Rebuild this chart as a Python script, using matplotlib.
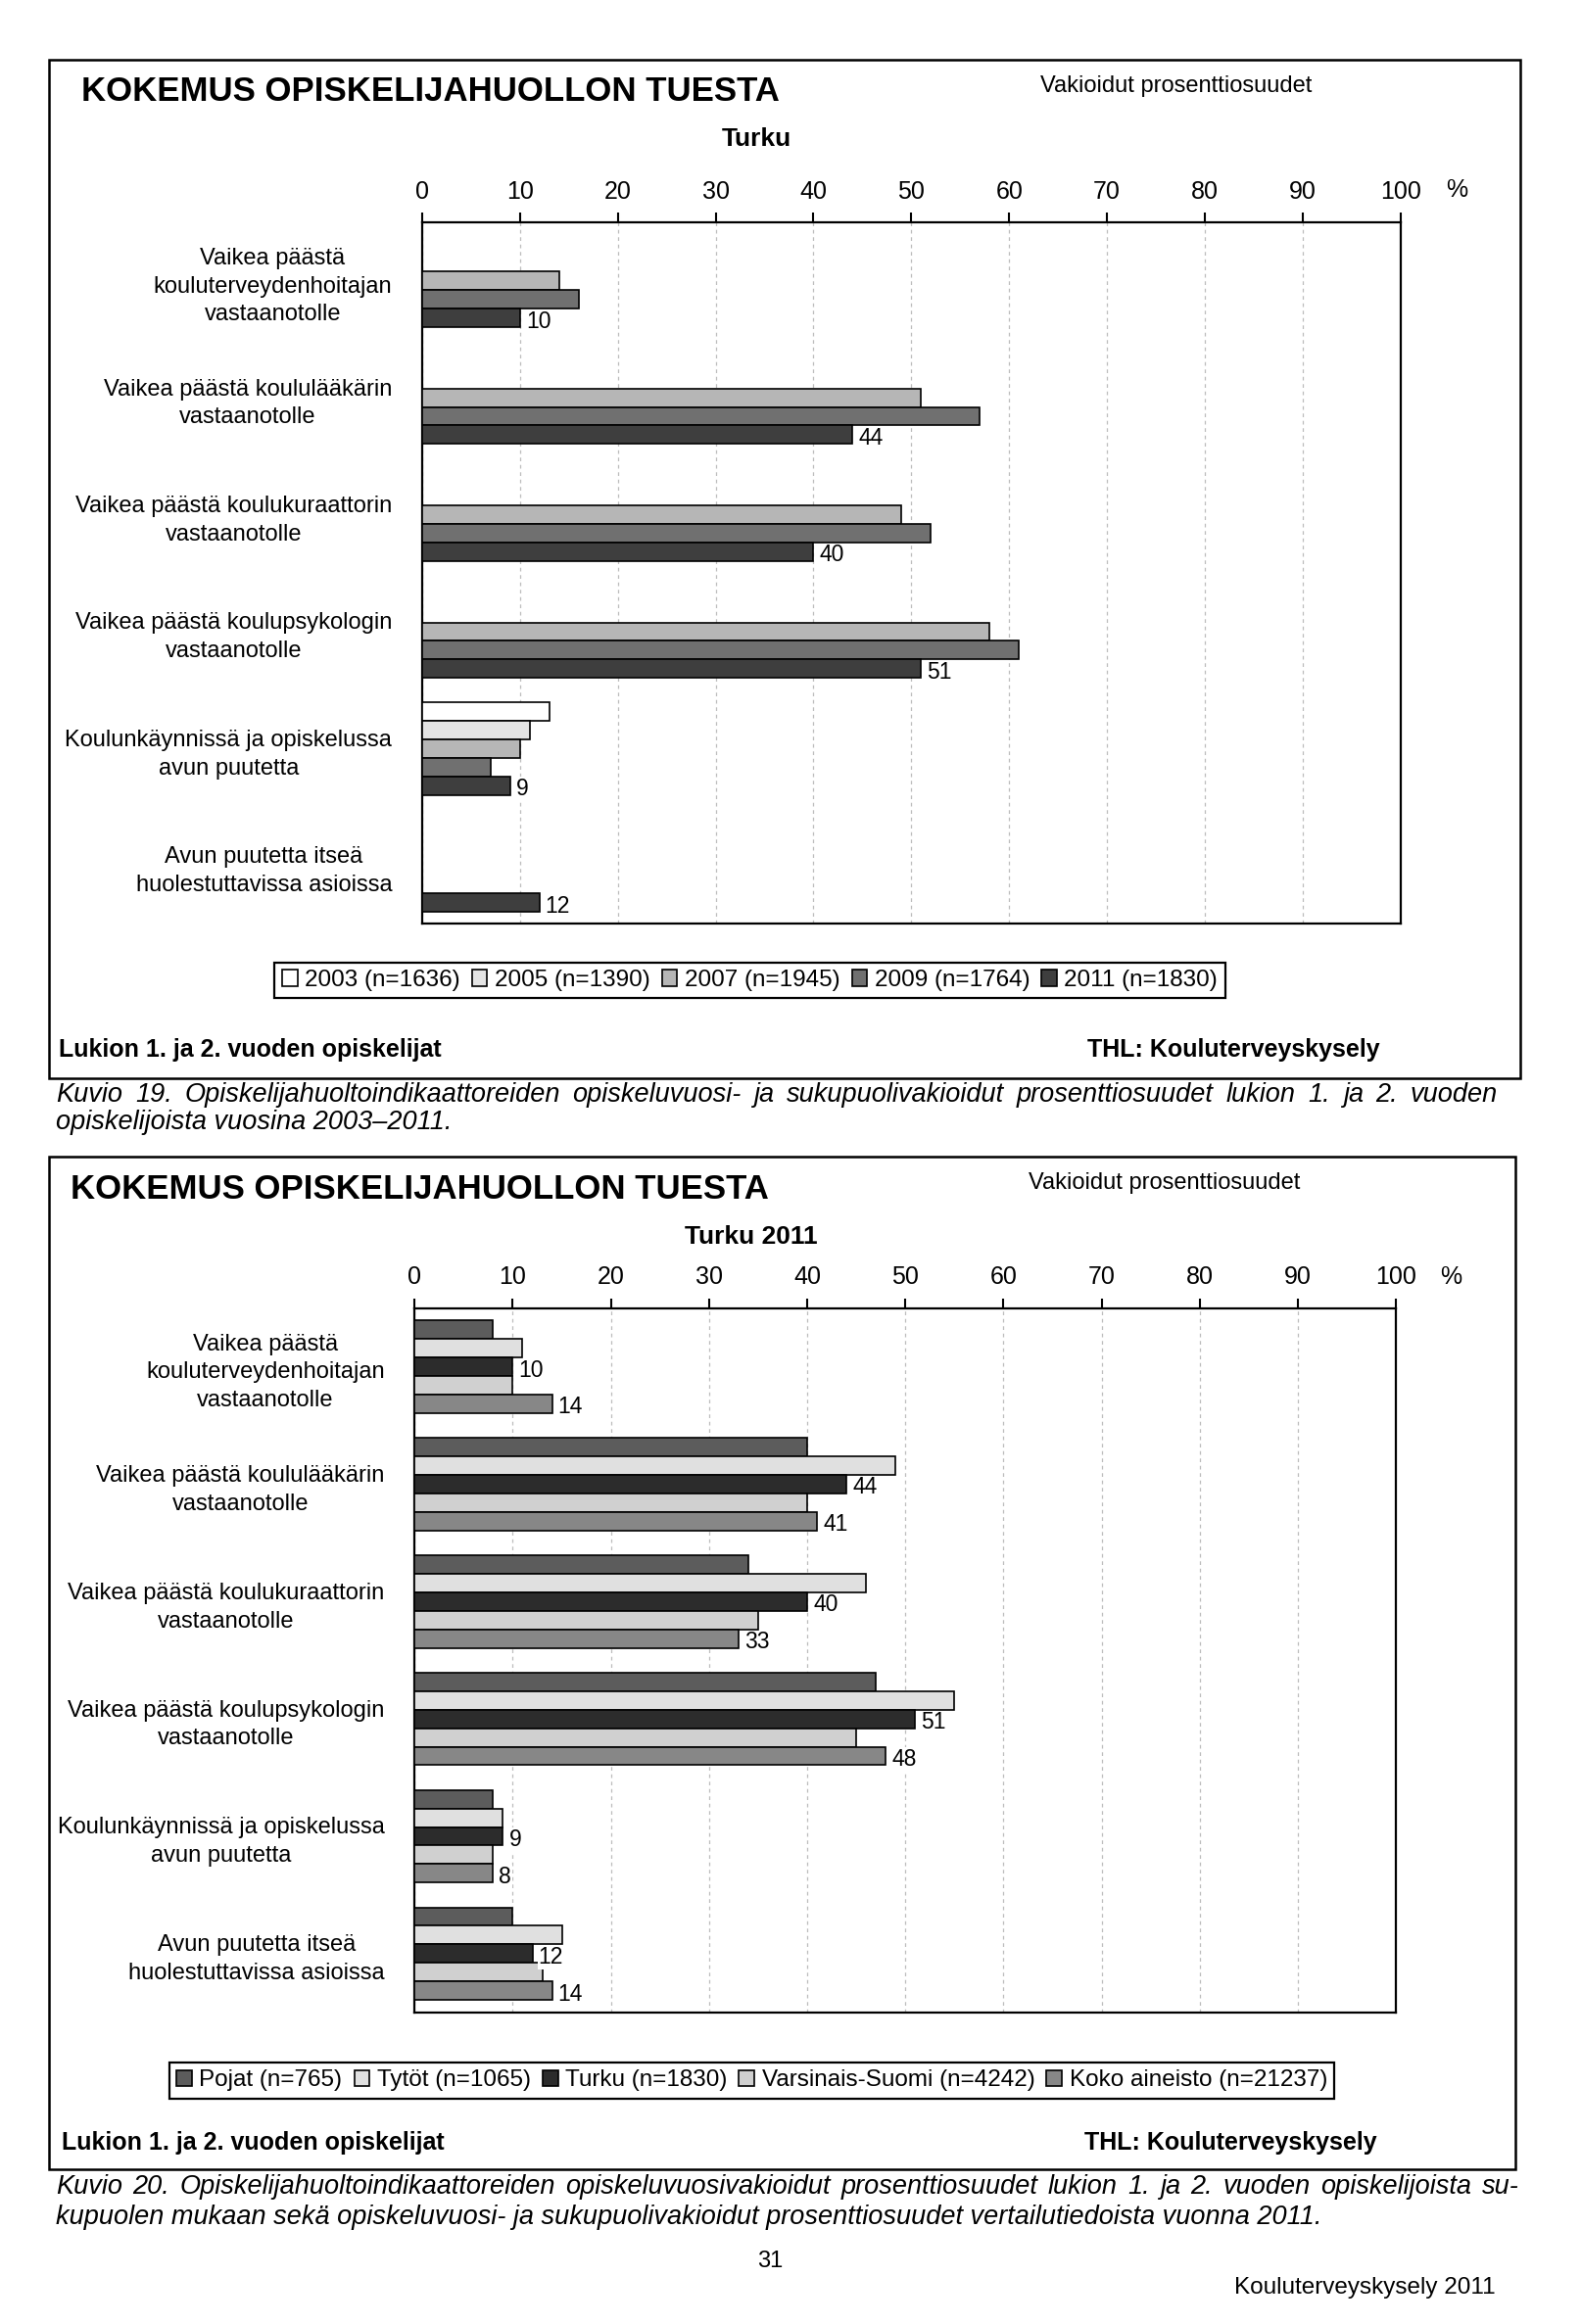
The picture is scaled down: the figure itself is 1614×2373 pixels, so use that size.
import numpy as np
import matplotlib
matplotlib.use('Agg')
import matplotlib.pyplot as plt
from matplotlib.patches import Rectangle

plt.rcParams['font.family'] = ['Liberation Sans', 'DejaVu Sans']

### data
categories = [
    'Vaikea päästä\nkouluterveydenhoitajan\nvastaanotolle',
    'Vaikea päästä koululääkärin\nvastaanotolle',
    'Vaikea päästä koulukuraattorin\nvastaanotolle',
    'Vaikea päästä koulupsykologin\nvastaanotolle',
    'Koulunkäynnissä ja opiskelussa\navun puutetta',
    'Avun puutetta itseä\nhuolestuttavissa asioissa',
]
ticks = list(range(0, 101, 10))

# top chart: Turku by survey year (None = no bar)
year_names = ['2003 (n=1636)', '2005 (n=1390)', '2007 (n=1945)', '2009 (n=1764)', '2011 (n=1830)']
v2003 = [None, None, None, None, 13, None]
v2005 = [None, None, None, None, 11, None]
v2007 = [14, 51, 49, 58, 10, None]
v2009 = [16, 57, 52, 61, 7, None]
v2011 = [10, 44, 40, 51, 9, 12]

# bottom chart: Turku 2011 comparisons
group_names = ['Pojat (n=765)', 'Tytöt (n=1065)', 'Turku (n=1830)',
               'Varsinais-Suomi (n=4242)', 'Koko aineisto (n=21237)']
pojat = [8, 40, 34, 47, 8, 10]
tytot = [11, 49, 46, 55, 9, 15]
turku = [10, 44, 40, 51, 9, 12]
varsinais = [10, 40, 35, 45, 8, 13]
koko = [14, 41, 33, 48, 8, 14]

year_colors = ['#ffffff', '#e4e4e4', '#b6b6b6', '#707070', '#3e3e3e']
group_colors = ['#5c5c5c', '#e0e0e0', '#2c2c2c', '#d0d0d0', '#878787']


def fy(y):
    # small vertical correction, grows toward the bottom of the page
    return y - 0.005 * (1 - y)


def draw_panel(ax, series, names, colors, labelled):
    n = len(series)
    h = 0.158
    ypos = np.arange(len(categories))
    handles = []
    for j, (vals, name, col) in enumerate(zip(series, names, colors)):
        vals = np.array([np.nan if v is None else v for v in vals], dtype=float)
        y = ypos + (j - (n - 1) / 2) * h
        ok = ~np.isnan(vals)
        b = ax.barh(y[ok], vals[ok], height=h, color=col, edgecolor='black',
                    linewidth=1.2, label=name, zorder=3)
        handles.append(b)
        if j in labelled:
            for yy, v in zip(y[ok], vals[ok]):
                ax.text(v + 0.6, yy + 0.03, '%d' % v, va='center', ha='left',
                        fontsize=16.5, zorder=4,
                        bbox=dict(facecolor='white', edgecolor='none', pad=0.5))
    ax.set_xlim(0, 100)
    ax.set_ylim(len(categories) - 0.5, -0.5)
    ax.xaxis.tick_top()
    ax.set_xticks(ticks)
    ax.tick_params(axis='x', direction='out', length=7, width=1.5,
                   labelsize=18, pad=7)
    ax.set_yticks(ypos)
    ax.set_yticklabels(categories)
    ax.tick_params(axis='y', length=0, pad=22, labelsize=17)
    for lbl in ax.get_yticklabels():
        lbl.set_multialignment('center')
        lbl.set_linespacing(1.4)
    ax.grid(axis='x', linestyle=(0, (3, 3)), color='#bdbdbd', linewidth=0.9, zorder=0)
    ax.grid(axis='y', visible=False)
    for s in ax.spines.values():
        s.set_linewidth(1.6)
        s.set_color('black')
    return handles


def justified(fig, line, x0, x1, y, **kw):
    words = line.split()
    r = fig.canvas.get_renderer()
    texts = [fig.text(0, y, w, va='center', ha='left', **kw) for w in words]
    widths = [t.get_window_extent(r).width / fig.bbox.width for t in texts]
    gap = (x1 - x0 - sum(widths)) / (len(words) - 1)
    x = x0
    for t, w in zip(texts, widths):
        t.set_x(x)
        x += w + gap


def panel_texts(fig, title_xy, vak_xy, sub, sub_xy, pct_xy, foot_y, foot_x0, thl_x1):
    fig.text(title_xy[0], fy(title_xy[1]), 'KOKEMUS OPISKELIJAHUOLLON TUESTA',
             fontsize=25, fontweight='bold', va='center', ha='left')
    fig.text(vak_xy[0], fy(vak_xy[1]), 'Vakioidut prosenttiosuudet',
             fontsize=17, va='center', ha='left')
    fig.text(sub_xy[0], fy(sub_xy[1]), sub, fontsize=19, fontweight='bold',
             va='center', ha='center')
    fig.text(pct_xy[0], fy(pct_xy[1]), '%', fontsize=18, va='center', ha='left')
    fig.text(foot_x0, fy(foot_y), 'Lukion 1. ja 2. vuoden opiskelijat',
             fontsize=18, fontweight='bold', va='center', ha='left')
    fig.text(thl_x1, fy(foot_y), 'THL: Kouluterveyskysely',
             fontsize=18, fontweight='bold', va='center', ha='right')


def main():
    fig = plt.figure(figsize=(16.15, 23.73), dpi=100)
    fig.patch.set_facecolor('white')

    # panel frames
    b0, b1 = fy(0.5384), fy(0.9746)
    fig.add_artist(Rectangle((0.0308, b0), 0.930, b1 - b0, transform=fig.transFigure,
                             fill=False, edgecolor='black', linewidth=1.8))
    b0, b1 = fy(0.0711), fy(0.5048)
    fig.add_artist(Rectangle((0.0308, b0), 0.9272, b1 - b0, transform=fig.transFigure,
                             fill=False, edgecolor='black', linewidth=1.8))

    ### top chart
    a0, a1 = fy(0.6044), fy(0.9048)
    ax1 = fig.add_axes([0.2668, a0, 0.6185, a1 - a0])
    h1 = draw_panel(ax1, [v2003, v2005, v2007, v2009, v2011], year_names,
                    year_colors, labelled=[4])
    panel_texts(fig, (0.0513, 0.9606), (0.6576, 0.9632), 'Turku', (0.4785, 0.9403),
                (0.9142, 0.9187), 0.5505, 0.0373, 0.8722)
    leg = fig.legend(h1, year_names, loc='center', bbox_to_anchor=(0.474, fy(0.5803)),
                     ncol=5, fontsize=17.5, frameon=True, fancybox=False, framealpha=1,
                     edgecolor='black', borderpad=0.3, handlelength=0.65,
                     handleheight=0.65, handletextpad=0.3, columnspacing=0.5)
    leg.get_frame().set_linewidth(1.6)

    ### bottom chart
    a0, a1 = fy(0.1384), fy(0.4400)
    ax2 = fig.add_axes([0.2621, a0, 0.6203, a1 - a0])
    h2 = draw_panel(ax2, [pojat, tytot, turku, varsinais, koko], group_names,
                    group_colors, labelled=[2, 4])
    panel_texts(fig, (0.0448, 0.4908), (0.6502, 0.4933), 'Turku 2011', (0.4748, 0.4705),
                (0.9104, 0.4533), 0.0825, 0.0392, 0.8703)
    leg2 = fig.legend(h2, group_names, loc='center', bbox_to_anchor=(0.4753, fy(0.1092)),
                      ncol=5, fontsize=17.5, frameon=True, fancybox=False, framealpha=1,
                      edgecolor='black', borderpad=0.3, handlelength=0.65,
                      handleheight=0.65, handletextpad=0.3, columnspacing=0.5)
    leg2.get_frame().set_linewidth(1.6)

    ### captions
    cap = dict(fontsize=19.5, style='italic')
    justified(fig, 'Kuvio 19. Opiskelijahuoltoindikaattoreiden opiskeluvuosi- ja '
                   'sukupuolivakioidut prosenttiosuudet lukion 1. ja 2. vuoden',
              0.0354, 0.9468, fy(0.5314), **cap)
    fig.text(0.0354, fy(0.5194), 'opiskelijoista vuosina 2003–2011.', va='center', **cap)
    justified(fig, 'Kuvio 20. Opiskelijahuoltoindikaattoreiden opiskeluvuosivakioidut '
                   'prosenttiosuudet lukion 1. ja 2. vuoden opiskelijoista su-',
              0.0354, 0.9600, fy(0.0635), **cap)
    fig.text(0.0354, fy(0.0508), 'kupuolen mukaan sekä opiskeluvuosi- ja sukupuolivakioidut '
                                 'prosenttiosuudet vertailutiedoista vuonna 2011.',
             va='center', **cap)

    fig.text(0.487, fy(0.0317), '31', fontsize=17, ha='center', va='center')
    fig.text(0.945, fy(0.0203), 'Kouluterveyskysely 2011', fontsize=17.5,
             ha='right', va='center')

    fig.savefig('out.png', dpi=100, facecolor='white')


if __name__ == "__main__":
    main()
